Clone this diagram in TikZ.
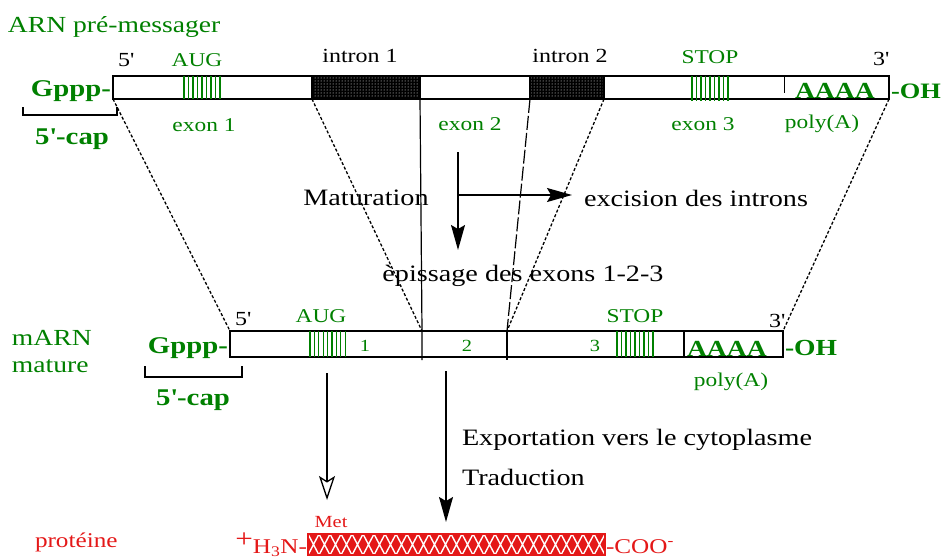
\documentclass[tikz,border=0pt]{standalone}
\usepackage{fontspec}
\setmainfont{Liberation Serif}[FakeStretch=1.2]
\usetikzlibrary{arrows.meta,patterns}
\definecolor{rnagreen}{RGB}{0,128,0}
\definecolor{protred}{RGB}{228,24,24}
\newcommand\fsz[1]{\fontsize{#1}{#1}\selectfont}
\newcommand\prm{\textquotesingle}

\begin{document}
\begin{tikzpicture}[x=1pt,y=-1pt]
\tikzset{ >=Latex, inner sep=0pt, outer sep=0pt,
  rnabar/.style={draw, line width=1.3pt, fill=white},
  intronbox/.style={draw, line width=1.1pt, preaction={fill=black}, pattern=dots, pattern color=white},
  codon/.style={rnagreen, line width=1.1pt},
  cut/.style={line width=1.3pt, dash pattern=on 3pt off 2pt},
  txt/.style={font=\fsz{23.5}},
  small/.style={font=\fsz{20}},
  glbl/.style={text=rnagreen, font=\fsz{19.5}},
  gtitle/.style={text=rnagreen, font=\fsz{23}},
  gbold/.style={text=rnagreen, font=\fsz{24}\bfseries},
  rtxt/.style={text=protred, font=\fsz{21}},
  darrow/.style={line width=1.3pt, -{Stealth[length=25pt,width=14pt,inset=4pt]}},
  oarrow/.style={line width=1.3pt, -{Stealth[open,length=24pt,width=16pt,inset=5pt,fill=white]}},
}
\useasboundingbox (0,0) rectangle (944,558);
%\draw [lightgray, dashed](0,0) grid[step=50] (944,558);

% ARN pre-messager
\node [gtitle, anchor=base west] (arnpre) at (8,32) {ARN pré-messager};
\node [rnabar, minimum width=776, minimum height=23] (pre) at (501,87.5) {};
\node [intronbox, minimum width=108, minimum height=23] (in1) at (366,87.5) {};
\node [intronbox, minimum width=74, minimum height=23] (in2) at (567,87.5) {};
\foreach \i in {0,...,8} \draw [codon] ({184+\i*4.5},76) -- ++(0,23);
\foreach \i in {0,...,8} \draw [codon] ({692+\i*4.5},76) -- ++(0,25);
\draw [line width=1pt] (784,76) -- (784,93);

\node [small, anchor=base] (p5) at (126,66) {5\prm};
\node [glbl, anchor=base] (aug1) at (197,66) {AUG};
\node [small, anchor=base] (int1) at (360,62) {intron 1};
\node [small, anchor=base] (int2) at (570,62) {intron 2};
\node [glbl, anchor=base] (stop1) at (710,63) {STOP};
\node [small, anchor=base] (p3) at (881,65) {3\prm};

\node [gbold, anchor=base east] (cap1) at (111,96) {Gppp-};
\node [gbold, font=\fsz{23}\bfseries, anchor=base west] (pa1) at (795,98) {AAAA};
\node [gbold, font=\fsz{22}\bfseries, anchor=base west] (oh1) at (891,98) {-OH};
\draw [line width=1.2pt] (23,107) -- (23,115) -- (117,115) -- (117,107);
\node [gbold, anchor=base] (capl1) at (72,144) {5\prm-cap};

\node [glbl, anchor=base] (ex1) at (204,131) {exon 1};
\node [glbl, anchor=base] (ex2) at (470,130) {exon 2};
\node [glbl, anchor=base] (ex3) at (703,130) {exon 3};
\node [glbl, anchor=base] (poly1) at (822,128) {poly(A)};

% mARN mature
\node [rnabar, minimum width=553, minimum height=26] (mat) at (506.5,344) {};
\coordinate (j1) at (422,331);
\coordinate (j1b) at (422,360);
\coordinate (j2) at (507,331);
\coordinate (j2b) at (507,360);
\foreach \i in {0,...,8} \draw [codon] ({310+\i*4.4},331) -- ++(0,26);
\foreach \i in {0,...,8} \draw [codon] ({617+\i*4.5},331) -- ++(0,26);
\draw [line width=1.2pt] (684,331) -- (684,357);

\draw [cut] (pre.south west) -- (mat.north west);
\draw [cut] (pre.south east) -- (mat.north east);
\draw [cut] (in1.south west) -- (j1);
\draw [line width=1.2pt] (in1.south east) -- (j1) -- (j1b);
\draw [line width=1.2pt, dash pattern=on 14pt off 3pt] (in2.south west) -- (j2);
\draw [cut] (in2.south east) -- (j2);
\draw [line width=1.2pt] (j2) -- (j2b);

\node [gtitle, anchor=base west] (marn) at (12,345) {mARN};
\node [gtitle, anchor=base west] (mature) at (12,372) {mature};
\node [small, anchor=base] (m5) at (243,325) {5\prm};
\node [glbl, anchor=base] (aug2) at (321,322) {AUG};
\node [glbl, anchor=base] (stop2) at (635,322) {STOP};
\node [small, anchor=base] (m3) at (777,327) {3\prm};
\node [glbl, font=\fsz{17}] (n1) at (365,346) {1};
\node [glbl, font=\fsz{17}] (n2) at (467,346) {2};
\node [glbl, font=\fsz{17}] (n3) at (595,346) {3};

\node [gbold, anchor=base east] (cap2) at (228,353) {Gppp-};
\node [gbold, font=\fsz{23}\bfseries, anchor=base west] (pa2) at (687,356) {AAAA};
\node [gbold, font=\fsz{23}\bfseries, anchor=base west] (oh2) at (785,355) {-OH};
\node [glbl, anchor=base] (poly2) at (731,386) {poly(A)};
\draw [line width=1.2pt] (145,366) -- (145,377) -- (242,377) -- (242,366);
\node [gbold, anchor=base] (capl2) at (193,405) {5\prm-cap};

% maturation
\coordinate (mt) at (458,152);
\coordinate (mb) at (458,250);
\coordinate (mj) at (458,195);
\coordinate (me) at (572,195);
\draw [darrow] (mt) -- (mb);
\draw [darrow] (mj) -- (me);
\node [txt, anchor=base] (matur) at (366,205) {Maturation};
\node [txt, anchor=base] (excis) at (696,206) {excision des introns};
\node [txt, anchor=base] (episs) at (523,281) {èpissage des exons 1-2-3};

% traduction
\coordinate (ta) at (327,373);
\coordinate (tb) at (327,500);
\coordinate (tc) at (446,371);
\coordinate (td) at (446,522);
\draw [oarrow] (ta) -- (tb);
\draw [darrow] (tc) -- (td);
\node [txt, anchor=base west] (export) at (462,445) {Exportation vers le cytoplasme};
\node [txt, anchor=base west] (trad) at (462,485) {Traduction};

% proteine
\node [draw=protred, fill=protred, line width=1pt, minimum width=297, minimum height=21] (prot) at (456.5,544.5) {};
\begin{scope}
\clip (prot.south west) rectangle (prot.north east);
\foreach \i in {0,...,27}
  \draw [white, line width=1.4pt] ({308+11*\i},534) -- ++(11,21) ({319+11*\i},534) -- ++(-11,21);
\end{scope}
\draw [protred, line width=1.2pt] (prot.south west) rectangle (prot.north east);
\node [rtxt, font=\fsz{17}, anchor=base] (met) at (331,527) {Met};
\node [rtxt, anchor=base west] (protl) at (35,547) {protéine};
\node [rtxt, anchor=base east] (nterm) at (307,553) {\raisebox{6pt}{\fsz{26}+}H\textsubscript{3}N-};
\node [rtxt, anchor=base west] (cterm) at (606,553) {-COO\textsuperscript{-}};

\end{tikzpicture}
\end{document}
